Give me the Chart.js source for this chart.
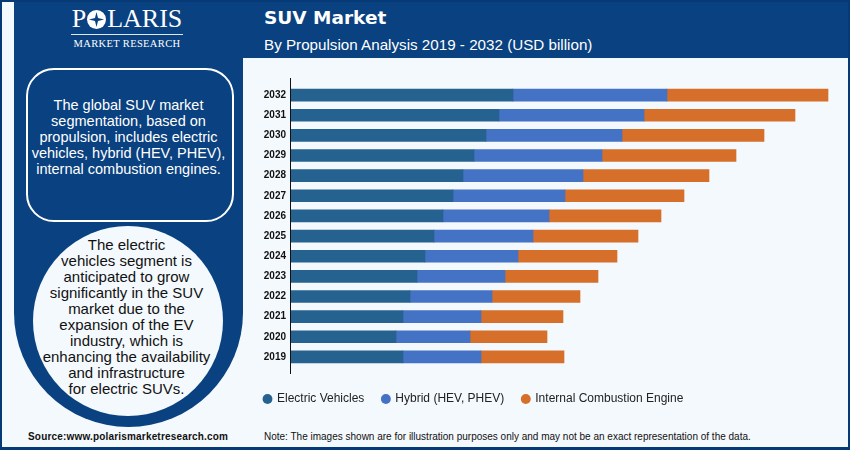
<!DOCTYPE html>
<html>
<head>
<meta charset="utf-8">
<script src="https://cdn.jsdelivr.net/npm/chart.js@4/dist/chart.umd.min.js"></script>
<style>
  html, body { margin: 0; padding: 0; }
  body { width: 850px; height: 450px; position: relative; overflow: hidden; background: #f4f9fd; font-family: "Liberation Sans", Arial, sans-serif; }
  .abs { position: absolute; }
  #frame { left: 0; top: 0; width: 846px; height: 445px; border: 2px solid #063a76; border-bottom-width: 3px; }
  #header { left: 14px; top: 2px; width: 834px; height: 56px; background: #0a4180; }
  #panel { left: 14px; top: 58px; width: 229px; height: 369px; background: #0a4180; border-radius: 0 0 114.5px 114.5px; }
  #title { left: 264px; top: 6px; color: #fff; font: bold 18.5px "DejaVu Sans", sans-serif; line-height: 24px; white-space: nowrap; }
  #subtitle { left: 264px; top: 35px; color: #fff; font-size: 15.2px; line-height: 20px; white-space: nowrap; }
  #logo { left: 71px; top: 6px; width: 112px; color: #fff; font-family: "Liberation Serif", serif; text-align: center; }
  #logoName { font-size: 26px; line-height: 26px; height: 26px; white-space: nowrap; display: flex; justify-content: center; align-items: center; }
  #logoName svg { margin: 0 1px; }
  #logoRule { height: 1px; background: #dfe8f2; margin-top: 2px; }
  #logoSub { font-size: 10.5px; line-height: 14px; margin-top: 2px; letter-spacing: .35px; white-space: nowrap; }
  #box { left: 26px; top: 68px; width: 204px; height: 150px; border: 2px solid #fff; border-radius: 28px; }
  #boxText { left: 14px; top: 97px; width: 229px; color: #fff; font-size: 14.5px; line-height: 16px; text-align: center; }
  #circle { left: 33px; top: 226px; width: 190px; height: 190px; border-radius: 50%; background: #f4f9fd; }
  #circleText { left: 12px; top: 237px; width: 229px; color: #111; font-size: 15px; line-height: 16px; text-align: center; }
  #source { left: 28px; top: 431px; color: #111; font-size: 10px; font-weight: bold; line-height: 12px; letter-spacing: .18px; white-space: nowrap; }
  #note { left: 264px; top: 431px; color: #111; font-size: 10px; line-height: 12px; white-space: nowrap; }
  #chart { left: 243px; top: 58px; }
</style>
</head>
<body>
<div class="abs" id="frame"></div>
<div class="abs" id="header"></div>
<div class="abs" id="panel"></div>

<div class="abs" id="logo">
  <div id="logoName">P<svg width="19" height="19" viewBox="0 0 20 20"><circle cx="10" cy="10" r="10" fill="#fff"/><path d="M10 2l1.6 6.4L18 10l-6.4 1.6L10 18l-1.6-6.4L2 10l6.4-1.6z" fill="#0a4180"/></svg>LARIS</div>
  <div id="logoRule"></div>
  <div id="logoSub">MARKET RESEARCH</div>
</div>

<div class="abs" id="title">SUV Market</div>
<div class="abs" id="subtitle">By Propulsion Analysis 2019 - 2032 (USD billion)</div>

<div class="abs" id="box"></div>
<div class="abs" id="boxText">The global SUV market<br>segmentation, based on<br>propulsion, includes electric<br>vehicles, hybrid (HEV, PHEV),<br>internal combustion engines.</div>

<div class="abs" id="circle"></div>
<div class="abs" id="circleText">The electric<br>vehicles segment is<br>anticipated to grow<br>significantly in the SUV<br>market due to the<br>expansion of the EV<br>industry, which is<br>enhancing the availability<br>and infrastructure<br>for electric SUVs.</div>

<div class="abs" id="source">Source:www.polarismarketresearch.com</div>
<div class="abs" id="note">Note: The images shown are for illustration purposes only and may not be an exact representation of the data.</div>

<canvas class="abs" id="chart" width="607" height="357"></canvas>

<script>
// ===== Data =====
const years = ["2032","2031","2030","2029","2028","2027","2026","2025","2024","2023","2022","2021","2020","2019"];
const electric = [22.3,20.9,19.6,18.4,17.3,16.3,15.3,14.4,13.5,12.7,12.0,11.3,10.6,11.3];
const hybrid   = [15.4,14.5,13.6,12.8,12.0,11.2,10.6,9.9,9.3,8.8,8.2,7.8,7.4,7.8];
const ice      = [16.1,15.1,14.2,13.4,12.6,11.9,11.2,10.5,9.9,9.3,8.8,8.2,7.7,8.3];

// vertical axis line runs a bit past the bars
const axisLine = {
  id: "axisLine",
  afterDraw(chart) {
    const { ctx, chartArea } = chart;
    ctx.save();
    ctx.strokeStyle = "#111";
    ctx.lineWidth = 1;
    ctx.beginPath();
    ctx.moveTo(chartArea.left + 0.5, chartArea.top - 7);
    ctx.lineTo(chartArea.left + 0.5, chartArea.bottom + 7);
    ctx.stroke();
    ctx.restore();
  }
};

new Chart(document.getElementById("chart").getContext("2d"), {
  type: "bar",
  data: {
    labels: years,
    datasets: [
      { label: "Electric Vehicles", data: electric, backgroundColor: "#26628f" },
      { label: "Hybrid (HEV, PHEV)", data: hybrid, backgroundColor: "#4472c4" },
      { label: "Internal Combustion Engine", data: ice, backgroundColor: "#d56f2a" }
    ]
  },
  options: {
    indexAxis: "y",
    responsive: false,
    animation: false,
    devicePixelRatio: 1,
    barThickness: 12,
    layout: { padding: { left: 3, right: 10, top: 27, bottom: 0 } },
    scales: {
      x: {
        stacked: true, min: 0, max: 55,
        grid: { display: false, drawTicks: false }, border: { display: false },
        ticks: { display: false },
        afterFit: (s) => { s.height = 8; }
      },
      y: {
        stacked: true,
        grid: { display: false, drawTicks: false }, border: { display: false },
        ticks: { color: "#111", font: { family: "Liberation Sans", size: 10, weight: "bold" }, padding: 4 },
        afterFit: (s) => { s.width = 44; }
      }
    },
    plugins: {
      tooltip: { enabled: false },
      legend: {
        position: "bottom",
        align: "start",
        labels: {
          usePointStyle: true,
          pointStyle: "circle",
          boxHeight: 7,
          boxWidth: 7,
          padding: 18,
          color: "#222",
          font: { family: "Liberation Sans", size: 12 }
        }
      }
    }
  },
  plugins: [axisLine]
});
</script>
</body>
</html>
